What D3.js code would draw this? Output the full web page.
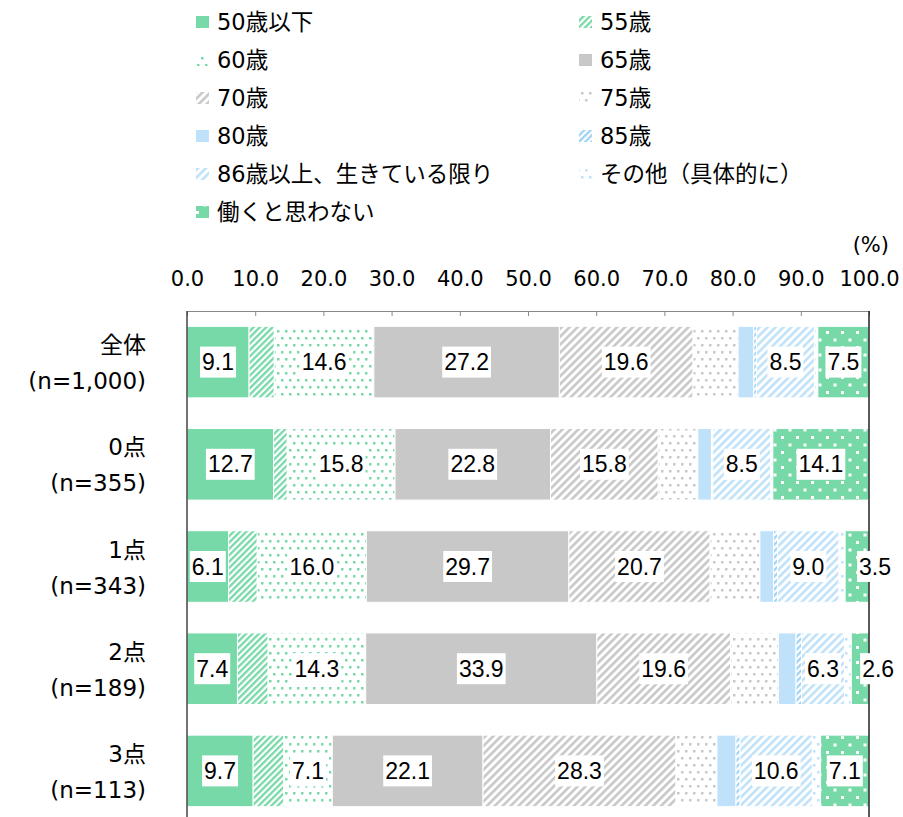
<!DOCTYPE html>
<html>
<head>
<meta charset="utf-8">
<script src="https://cdn.jsdelivr.net/npm/d3@7"></script>
<style>
  body { margin: 0; background: #fff; }
</style>
</head>
<body>
<svg width="903" height="817"></svg>
<script>
// categories (rows)
const groups = ["全体", "0点", "1点", "2点", "3点"];
const groupN = ["(n=1,000)", "(n=355)", "(n=343)", "(n=189)", "(n=113)"];

// series (legend order)
const seriesNames = ["50歳以下", "55歳", "60歳", "65歳", "70歳", "75歳", "80歳", "85歳",
  "86歳以上、生きている限り", "その他（具体的に）", "働くと思わない"];

// values (%), one array per series, in the order of groups
const v50 = [9.1, 12.7, 6.1, 7.4, 9.7];
const v55 = [3.7, 2.0, 4.2, 4.5, 4.5];
const v60 = [14.6, 15.8, 16.0, 14.3, 7.1];
const v65 = [27.2, 22.8, 29.7, 33.9, 22.1];
const v70 = [19.6, 15.8, 20.7, 19.6, 28.3];
const v75 = [6.6, 5.8, 7.3, 7.0, 6.0];
const v80 = [2.3, 2.0, 2.0, 2.6, 2.8];
const v85 = [0.4, 0.2, 0.6, 0.8, 0.6];
const v86 = [8.5, 8.5, 9.0, 6.3, 10.6];
const vOther = [0.5, 0.3, 0.9, 1.0, 1.2];
const vNo = [7.5, 14.1, 3.5, 2.6, 7.1];

const xTicks = [0, 10, 20, 30, 40, 50, 60, 70, 80, 90, 100];

// series that carry value labels
const labeled = ["50歳以下", "60歳", "65歳", "70歳", "86歳以上、生きている限り", "働くと思わない"];

const seriesValues = [v50, v55, v60, v65, v70, v75, v80, v85, v86, vOther, vNo];
const table = groups.map((g, i) => {
  const row = { group: g };
  seriesNames.forEach((s, j) => row[s] = seriesValues[j][i]);
  return row;
});

const font = "'DejaVu Sans', 'Noto Sans CJK JP', sans-serif";
const green = "#78d9a8", gray = "#c8c8c8", blue = "#bfe2fa";
const fills = [green, "url(#p55)", "url(#p60)", gray, "url(#p70)", "url(#p75)", blue,
  "url(#p85)", "url(#p86)", "url(#pOther)", "url(#pNo)"];

const svg = d3.select("svg");
const defs = svg.append("defs");

// diagonal stripes "/"
function stripes(id, color, size, w) {
  const p = defs.append("pattern").attr("id", id)
    .attr("patternUnits", "userSpaceOnUse")
    .attr("width", size).attr("height", size)
    .attr("patternTransform", "rotate(45)");
  p.append("rect").attr("width", size).attr("height", size).attr("fill", "#fff");
  p.append("rect").attr("width", w).attr("height", size).attr("fill", color);
}
// staggered small dots
function dots(id, color, bg, w, h, r) {
  const p = defs.append("pattern").attr("id", id)
    .attr("patternUnits", "userSpaceOnUse")
    .attr("width", w).attr("height", h);
  p.append("rect").attr("width", w).attr("height", h).attr("fill", bg);
  p.append("rect").attr("x", 1).attr("y", 1).attr("width", r).attr("height", r).attr("fill", color);
  p.append("rect").attr("x", 1 + w / 2).attr("y", 1 + h / 2).attr("width", r).attr("height", r).attr("fill", color);
}
stripes("p55", green, 4.5, 2.3);
stripes("p70", gray, 5.6, 2.6);
stripes("p85", "#9fd3f5", 4.5, 2.3);
stripes("p86", blue, 5.6, 2.6);
dots("p60", green, "#fff", 8, 14, 2.5);
dots("p75", gray, "#fff", 8, 14, 2.5);
dots("pOther", blue, "#fff", 8, 14, 2.5);
dots("pNo", "#fff", green, 15, 15, 3);

const x = d3.scaleLinear().domain([0, 100]).range([187, 869]);
const y = d3.scaleBand().domain(groups).range([311, 822])
  .paddingInner(0.3).paddingOuter(0.15);

const stack = d3.stack().keys(seriesNames)(table);

// bars
const layers = svg.append("g").selectAll("g")
  .data(stack)
  .join("g")
  .attr("fill", (d, i) => fills[i]);

layers.selectAll("rect")
  .data(d => d)
  .join("rect")
  .attr("x", d => x(d[0]))
  .attr("y", d => y(d.data.group))
  .attr("width", d => x(d[1]) - x(d[0]))
  .attr("height", y.bandwidth())
  .attr("stroke", "#fff")
  .attr("stroke-width", 1);

// top axis
const xAxis = svg.append("g")
  .attr("transform", "translate(0,311)")
  .call(d3.axisTop(x).tickValues(xTicks).tickFormat(d3.format(".1f"))
    .tickSizeInner(-5).tickSizeOuter(0).tickPadding(25));
xAxis.select(".domain").attr("stroke", "#888");
xAxis.selectAll(".tick line").attr("stroke", "#888");
xAxis.selectAll("text")
  .attr("font-family", font)
  .attr("font-size", 21)
  .attr("fill", "#000");

// left and right frame lines
svg.append("line").attr("x1", x(0)).attr("x2", x(0)).attr("y1", 311).attr("y2", 817)
  .attr("stroke", "#444").attr("stroke-width", 1.5);
svg.append("line").attr("x1", x(100)).attr("x2", x(100)).attr("y1", 311).attr("y2", 817)
  .attr("stroke", "#222").attr("stroke-width", 1.5);

// unit
svg.append("text")
  .attr("x", 889).attr("y", 252)
  .attr("text-anchor", "end")
  .attr("font-family", font)
  .attr("font-size", 21)
  .text("(%)");

// category labels
const cat = svg.append("g")
  .attr("font-family", font)
  .attr("font-size", 23)
  .attr("text-anchor", "end");
groups.forEach((g, i) => {
  const cy = y(g) + y.bandwidth() / 2;
  cat.append("text").attr("x", 146).attr("y", cy - 17)
    .attr("dominant-baseline", "central").text(g);
  cat.append("text").attr("x", 146).attr("y", cy + 19)
    .attr("dominant-baseline", "central").text(groupN[i]);
});

// value labels with white boxes
const lab = svg.append("g");
stack.forEach(layer => {
  if (!labeled.includes(layer.key)) return;
  layer.forEach(d => {
    const x0 = x(d[0]), x1 = x(d[1]);
    const cy = y(d.data.group) + y.bandwidth() / 2;
    const t = lab.append("text")
      .attr("y", cy)
      .attr("dominant-baseline", "central")
      .attr("font-family", "'Liberation Sans', Arial, sans-serif")
      .attr("font-size", 23)
      .text(d3.format(".1f")(d[1] - d[0]));
    const tw = t.node().getComputedTextLength();
    const bw = tw + 4;
    let bx = (x0 + x1) / 2 - bw / 2;
    if (x1 - x0 < bw) bx = (x0 + x1) / 2;
    t.attr("x", bx + 2);
    lab.insert("rect", () => t.node())
      .attr("x", bx).attr("y", cy - 15.5)
      .attr("width", bw).attr("height", 31)
      .attr("fill", "#fff");
  });
});

// legend
const legend = svg.append("g")
  .attr("font-family", font)
  .attr("font-size", 22.5);
seriesNames.forEach((s, i) => {
  const col = i % 2, row = Math.floor(i / 2);
  const lx = col === 0 ? 196 : 579;
  const ly = 22 + row * 38;
  legend.append("rect")
    .attr("x", lx).attr("y", ly - 6)
    .attr("width", 13).attr("height", 12)
    .attr("fill", fills[i]);
  legend.append("text")
    .attr("x", lx + 21).attr("y", ly)
    .attr("dominant-baseline", "central")
    .text(s);
});
</script>
</body>
</html>
